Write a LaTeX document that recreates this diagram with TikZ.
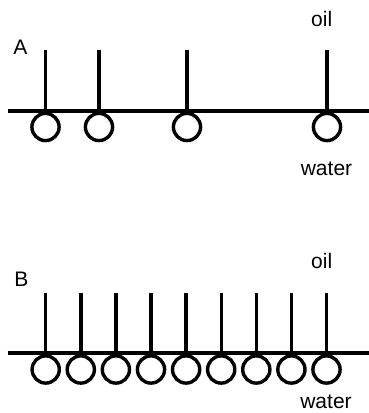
\documentclass[tikz,border=0pt]{standalone}
\usepackage{fontspec}
\setmainfont{Liberation Sans}
\tikzset{
  txt/.style = {font=\fontsize{21}{25}\selectfont, inner sep=0pt, anchor=base},
  head/.style = {radius=13.6pt}
}
\begin{document}
\begin{tikzpicture}[x=1pt,y=-1pt,line width=3.4pt]
\useasboundingbox (0,0) rectangle (369,413);

% few molecules spread along the surface
\begin{scope}
\draw (7.5,111) -- (369,111) ;
\foreach \x in {45.5,99,187,327} {
  \draw (\x,50) -- (\x,111) ;
  \draw (\x,127) circle [head] ;
}
\node[txt] (nameA) at (20.5,54) {A};
\node[txt] (oilA) at (321.7,26) {oil};
\node[txt] (waterA) at (326.5,175) {water};
\end{scope}

% packed layer
\begin{scope}[shift = {(0,242)}]
\draw (7.5,111) -- (369,111) ;
\foreach \i in {0,...,8} {
  \pgfmathsetmacro{\x}{45.7+35.1*\i}
  \draw (\x,51) -- (\x,111) ;
  \draw (\x,127.5) circle [head] ;
}
\node[txt] (nameB) at (21.5,44.5) {B};
\node[txt] (oilB) at (321.7,26.3) {oil};
\node[txt] (waterB) at (326,166.5) {water};
\end{scope}
\end{tikzpicture}
\end{document}
